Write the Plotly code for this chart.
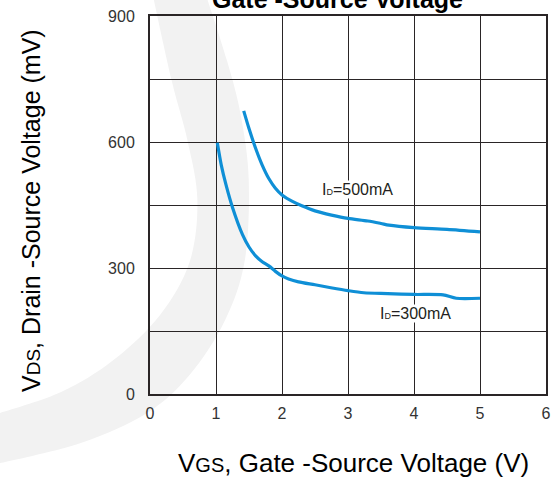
import plotly.graph_objects as go

# Data
vgs_500 = [1.42, 1.50, 1.60, 1.70, 1.80, 1.90, 2.00, 2.15, 2.30, 2.50, 2.75, 3.00, 3.30, 3.50, 3.62, 4.00, 4.50, 5.00]
vds_500 = [674, 632, 585, 545, 513, 490, 474, 459, 448, 436, 426, 418, 412, 406, 402, 396, 392, 386]

vgs_300 = [1.02, 1.08, 1.15, 1.25, 1.40, 1.50, 1.60, 1.70, 1.80, 1.90, 2.00, 2.10, 2.25, 2.50, 2.74, 3.00, 3.24, 3.60, 4.00, 4.44, 4.64, 5.00]
vds_300 = [598, 545, 499, 444, 380, 350, 329, 315, 305, 292, 281, 274, 267, 260, 253, 246, 241, 239, 237, 236, 228, 228]

x_ticks = [0, 1, 2, 3, 4, 5, 6]
y_grid = [0, 150, 300, 450, 600, 750, 900]
y_labels = ["0", "", "300", "", "600", "", "900"]

BLUE = "#0f8fd6"
DARK = "#2a2526"
FONT = "Liberation Sans, Arial, sans-serif"

W, H = 559, 479
ML, MR, MT, MB = 150, 8, 15, 85
PW = W - ML - MR
PH = H - MT - MB


def to_paper(px, py):
    return (px - ML) / PW, (H - MB - py) / PH


def smooth_path(points, closed=True):
    """Catmull-Rom through pixel points -> cubic bezier SVG path in paper coords."""
    n = len(points)
    P = [to_paper(*p) for p in points]
    s = f"M{P[0][0]:.4f},{P[0][1]:.4f} "
    for i in range(n - 1):
        p0 = P[i - 1] if i > 0 else P[i]
        p1 = P[i]
        p2 = P[i + 1]
        p3 = P[i + 2] if i + 2 < n else P[i + 1]
        c1 = (p1[0] + (p2[0] - p0[0]) / 6, p1[1] + (p2[1] - p0[1]) / 6)
        c2 = (p2[0] - (p3[0] - p1[0]) / 6, p2[1] - (p3[1] - p1[1]) / 6)
        s += f"C{c1[0]:.4f},{c1[1]:.4f} {c2[0]:.4f},{c2[1]:.4f} {p2[0]:.4f},{p2[1]:.4f} "
    if closed:
        s += "Z"
    return s


# faint background watermark (decorative crescent band)
wm_outer = [(207, -5), (228, 60), (242, 115), (250, 180), (246, 260), (226, 320),
            (190, 375), (147, 413), (80, 443), (-5, 464)]
wm_inner = [(-5, 414), (60, 392), (113, 360), (160, 315), (190, 262), (198, 200),
            (188, 140), (172, 80), (153, -5)]
path_outer = smooth_path(wm_outer, closed=False)
path_inner = smooth_path(wm_inner, closed=False).replace("M", "L", 1)
path = path_outer + path_inner + "Z"

fig = go.Figure()

fig.add_shape(type="path", path=path, xref="paper", yref="paper",
              fillcolor="rgb(242,242,242)", line=dict(width=0), layer="below")

fig.add_trace(go.Scatter(x=vgs_500, y=vds_500, mode="lines",
                         line=dict(color=BLUE, width=3.2, shape="spline", smoothing=0.8),
                         showlegend=False, hoverinfo="skip"))
fig.add_trace(go.Scatter(x=vgs_300, y=vds_300, mode="lines",
                         line=dict(color=BLUE, width=3.2, shape="spline", smoothing=0.8),
                         showlegend=False, hoverinfo="skip"))

fig.add_annotation(x=3.14, y=488, xref="x", yref="y", showarrow=False,
                   text="I<span style='font-size:9px'>D</span>=500mA",
                   font=dict(family=FONT, size=16, color="#231f20"),
                   bgcolor="white", borderpad=0)
fig.add_annotation(x=4.03, y=192, xref="x", yref="y", showarrow=False,
                   text="I<span style='font-size:9px'>D</span>=300mA",
                   font=dict(family=FONT, size=16, color="#231f20"),
                   bgcolor="white", borderpad=0)

# partially visible title at the very top
fig.add_annotation(x=to_paper(340, 0)[0], y=to_paper(0, 14)[1], xref="paper", yref="paper",
                   xanchor="center", yanchor="bottom", showarrow=False,
                   text="<b>Gate -Source Voltage</b>",
                   font=dict(family=FONT, size=25, color="black"))

# axis titles
fig.add_annotation(x=to_paper(356, 0)[0], y=to_paper(0, 463)[1], xref="paper", yref="paper",
                   xanchor="center", yanchor="middle", showarrow=False,
                   text="V<span style='font-size:20px'>GS</span>, Gate -Source Voltage (V)",
                   font=dict(family=FONT, size=26, color="black"))
fig.add_annotation(x=to_paper(30, 0)[0], y=to_paper(0, 210)[1], xref="paper", yref="paper",
                   xanchor="center", yanchor="middle", showarrow=False, textangle=-90,
                   text="V<span style='font-size:19px'>DS</span>, Drain -Source Voltage (mV)",
                   font=dict(family=FONT, size=25, color="black"))

fig.update_layout(
    width=W, height=H,
    margin=dict(l=ML, r=MR, t=MT, b=MB),
    paper_bgcolor="white",
    plot_bgcolor="rgba(0,0,0,0)",
    font=dict(family=FONT, size=16, color="#333333"),
    xaxis=dict(range=[0, 6], tickvals=x_ticks, ticktext=[str(v) for v in x_ticks],
               showgrid=True, gridcolor=DARK, gridwidth=1.3,
               showline=True, linecolor=DARK, linewidth=2, mirror=True,
               ticks="", zeroline=False, ticklabelstandoff=4,
               tickfont=dict(family=FONT, size=16, color="#333333")),
    yaxis=dict(range=[0, 900], tickvals=y_grid, ticktext=y_labels,
               showgrid=True, gridcolor=DARK, gridwidth=1.3,
               showline=True, linecolor=DARK, linewidth=2, mirror=True,
               ticks="", zeroline=False, ticklabelstandoff=10,
               tickfont=dict(family=FONT, size=16, color="#333333")),
)

fig.write_html("out.html")
